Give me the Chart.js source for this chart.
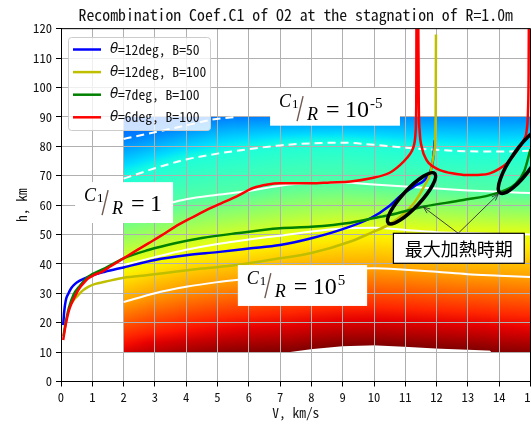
<!DOCTYPE html>
<html>
<head>
<meta charset="utf-8">
<script src="https://cdn.jsdelivr.net/npm/chart.js@4.4.1/dist/chart.umd.min.js"></script>
<style>
  html, body { margin: 0; padding: 0; background: #fff; overflow: hidden; }
  #wrap { position: relative; width: 600px; height: 426px; }
</style>
</head>
<body>
<div id="wrap"><canvas id="c" width="600" height="426"></canvas></div>
<script>
// ---------------- axes ----------------
const X_TICKS = [0, 1, 2, 3, 4, 5, 6, 7, 8, 9, 10, 11, 12, 13, 14, 15];
const Y_TICKS = [0, 10, 20, 30, 40, 50, 60, 70, 80, 90, 100, 110, 120];

// ---------------- flight trajectories (V km/s, h km) ----------------
const SERIES_LABELS = ['=12deg, B=50', '=12deg, B=100', '=7deg, B=100', '=6deg, B=100'];
const SERIES_COLORS = ['#0000ff', '#bfbf00', '#008000', '#ff0000'];

const BLUE_V = [0.07, 0.1, 0.15, 0.23, 0.33, 0.45, 0.6, 0.87, 1.4, 2, 3, 4, 5, 6, 7, 8, 9, 9.9, 10.5, 10.85, 11.3, 11.7, 11.88, 11.94];
const BLUE_H = [19.2, 23.5, 27.5, 29.8, 31.8, 33.2, 34.3, 35.6, 37.3, 38.8, 41.3, 42.9, 44.0, 45.2, 46.4, 48.7, 51.8, 55.6, 59.8, 63.2, 66.5, 69.7, 75, 82];

const YELLOW_V = [0.33, 0.45, 0.55, 0.7, 0.87, 1.1, 1.4, 2, 2.79, 3.64, 4.5, 5.6, 7, 7.97, 9.25, 9.87, 10.5, 11, 11.3, 11.6, 11.8, 11.92, 11.97, 11.98];
const YELLOW_H = [26.5, 28.3, 29.4, 31, 32.2, 33.2, 33.9, 35.3, 36.2, 37.3, 38.4, 39.6, 41.9, 43.6, 47.6, 50.4, 53.5, 57.5, 61, 66.3, 71, 78, 90, 118];

const GREEN_V = [0.08, 0.15, 0.25, 0.4, 0.6, 0.87, 1.4, 2, 2.79, 3.64, 4.5, 5.6, 7, 8, 9.25, 10.2, 10.5, 11.6, 12.85, 13.9, 14.5, 14.8, 15];
const GREEN_H = [15.5, 20, 25, 29.5, 32.5, 35.6, 38.5, 41.9, 44.7, 47, 48.8, 50.4, 52.1, 52.6, 54, 56, 56.6, 59.5, 61.7, 64, 67, 71.5, 79];

const RED_V = [0.07, 0.12, 0.18, 0.25, 0.34, 0.45, 0.55, 0.7, 0.87, 1.05, 1.3, 1.6, 2, 2.4, 2.79, 3.2, 3.64, 4.1, 4.55, 5.1, 5.6, 6.14, 6.6, 7, 7.5, 8, 8.6, 9.25, 9.9, 10.5, 10.83, 11.05, 11.2, 11.28, 11.33, 11.35, 11.36,
               11.41, 11.43, 11.46, 11.52, 11.68, 11.9, 12.1, 12.5, 12.96, 13.4, 13.7, 14, 14.24, 14.46, 14.66, 14.8, 14.88, 14.92, 14.94, 14.95];
const RED_H = [14.1, 17.5, 20.9, 24, 26.6, 29, 31.1, 33.2, 35.1, 36.2, 37.3, 39.3, 41.9, 44.5, 47, 49.6, 52.6, 55.3, 57.8, 60.5, 62.9, 65.8, 67, 67.4, 67.4, 67.4, 67.7, 68, 69.1, 71, 73.6, 76, 78.2, 80.5, 85, 95, 130,
               130, 95, 85, 80, 75.3, 73, 71.9, 70.8, 70.2, 70.3, 70.8, 72.3, 74.2, 76.8, 79.9, 82.5, 85.5, 92, 105, 130];

// ---------------- C1/R field: contour lines ----------------
const CONTOUR_V = [2, 3, 4, 5, 6, 7, 8, 9, 10, 11, 12, 13, 14, 15];
const DASH_LOW_H = [69, 72.5, 75.5, 77.5, 79, 80.3, 81, 81.2, 80.5, 79.5, 78.8, 78.3, 78.2, 78.5];
const SOLID_TOP_H = [57.5, 59.5, 62, 63.5, 64.8, 66.6, 67.5, 67.7, 67, 66.3, 65.6, 65, 64.5, 64.1];
const SOLID_MID_H = [39.6, 42.3, 44.8, 46.8, 48.3, 49.6, 51, 52, 52.3, 51.5, 50.8, 50.5, 50.2, 50];
const SOLID_LOW_H = [27, 30, 32.2, 33.8, 35, 36.5, 37.5, 38.3, 38.5, 38, 37.3, 36.5, 36, 35.5];
const DASH_TOP_V = [2, 3, 4, 4.8, 5.6];
const DASH_TOP_H = [82.5, 84.8, 87.1, 89, 90];

// field extent and colour-scale positions (0 = blue end, 1 = dark red end)
const FIELD_TOP = 90;
const FIELD_BOTTOM_V = [2, 7.3, 8, 9, 10, 11, 12, 13, 13.7, 13.75, 15];
const FIELD_BOTTOM_H = [10, 10, 11, 12, 12.3, 11.8, 11.2, 10.8, 10.5, 10, 10];
const SCALE_TOP = [0.21, 0.215, 0.225, 0.24, 0.25, 0.252, 0.255, 0.257, 0.258, 0.26, 0.26, 0.26, 0.26, 0.26];
const SCALE_BOTTOM = [0.925, 0.95, 0.97, 0.985, 0.995, 1, 1, 1, 1, 1, 1, 1, 0.995, 0.99];
const LEVEL_DASH_TOP = 0.25, LEVEL_DASH_LOW = 0.385, LEVEL_SOLID_TOP = 0.45, LEVEL_SOLID_MID = 0.63, LEVEL_SOLID_LOW = 0.74;

// ---------------- fonts ----------------
const MONO = "'Noto Sans Mono CJK JP', 'Liberation Mono', monospace";
const CJK = "'Noto Sans CJK JP', sans-serif";
const SERIF = "'Liberation Serif', 'DejaVu Serif', serif";

// ---------------- helpers ----------------
const pts = (xs, ys) => xs.map((v, i) => ({ x: v, y: ys[i] }));
function lerp1(xs, ys, v) {
  if (v <= xs[0]) return ys[0];
  for (let i = 1; i < xs.length; i++) {
    if (v <= xs[i]) {
      const f = (v - xs[i - 1]) / (xs[i] - xs[i - 1]);
      return ys[i - 1] + f * (ys[i] - ys[i - 1]);
    }
  }
  return ys[ys.length - 1];
}
const JET_R = [[0, 0], [0.35, 0], [0.66, 1], [0.89, 1], [1, 0.5]];
const JET_G = [[0, 0], [0.125, 0], [0.375, 1], [0.64, 1], [0.91, 0], [1, 0]];
const JET_B = [[0, 0.5], [0.11, 1], [0.34, 1], [0.65, 0], [1, 0]];
function chan(p, t) {
  return lerp1(p.map(q => q[0]), p.map(q => q[1]), t);
}
function jet(t) {
  t = Math.max(0, Math.min(1, t));
  return 'rgb(' + Math.round(255 * chan(JET_R, t)) + ',' + Math.round(255 * chan(JET_G, t)) + ',' + Math.round(255 * chan(JET_B, t)) + ')';
}

// colour field painted under the grid
const fieldPlugin = {
  id: 'field',
  beforeDraw(chart) {
    const { ctx, chartArea, scales: { x, y } } = chart;
    const px0 = Math.round(x.getPixelForValue(CONTOUR_V[0]));
    const px1 = Math.round(Math.min(chartArea.right, x.getPixelForValue(CONTOUR_V[CONTOUR_V.length - 1])));
    ctx.save();
    for (let px = px0; px < px1; px++) {
      const v = x.getValueForPixel(px + 0.5);
      const hB = lerp1(FIELD_BOTTOM_V, FIELD_BOTTOM_H, v);
      const stops = [
        [hB, lerp1(CONTOUR_V, SCALE_BOTTOM, v)],
        [lerp1(CONTOUR_V, SOLID_LOW_H, v), LEVEL_SOLID_LOW],
        [lerp1(CONTOUR_V, SOLID_MID_H, v), LEVEL_SOLID_MID],
        [lerp1(CONTOUR_V, SOLID_TOP_H, v), LEVEL_SOLID_TOP],
        [lerp1(CONTOUR_V, DASH_LOW_H, v), LEVEL_DASH_LOW]
      ];
      if (v < DASH_TOP_V[DASH_TOP_V.length - 1]) stops.push([lerp1(DASH_TOP_V, DASH_TOP_H, v), LEVEL_DASH_TOP]);
      stops.push([FIELD_TOP, lerp1(CONTOUR_V, SCALE_TOP, v)]);
      const yB = y.getPixelForValue(hB), yT = y.getPixelForValue(FIELD_TOP);
      const g = ctx.createLinearGradient(0, yB, 0, yT);
      for (let i = 0; i < stops.length - 1; i++) {
        const [h0, t0] = stops[i], [h1, t1] = stops[i + 1];
        for (let k = 0; k <= 6; k++) {
          const f = k / 6;
          const h = h0 + f * (h1 - h0);
          const off = Math.max(0, Math.min(1, (h - hB) / (FIELD_TOP - hB)));
          g.addColorStop(off, jet(t0 + f * (t1 - t0)));
        }
      }
      ctx.fillStyle = g;
      ctx.fillRect(px, yT, 1, yB - yT);
    }
    ctx.restore();
  }
};

function arrowLine(ctx, x0, y0, x1, y1) {
  ctx.beginPath();
  ctx.moveTo(x0, y0);
  ctx.lineTo(x1, y1);
  const a = Math.atan2(y1 - y0, x1 - x0);
  const L = 7, w = 0.38;
  ctx.moveTo(x1 - L * Math.cos(a - w), y1 - L * Math.sin(a - w));
  ctx.lineTo(x1, y1);
  ctx.lineTo(x1 - L * Math.cos(a + w), y1 - L * Math.sin(a + w));
  ctx.stroke();
}

// ratio label  C1/R = value
function ratioLabel(ctx, x, y, box, base, sup, sz) {
  const bx = x.getPixelForValue(box[0]), by = y.getPixelForValue(box[1]);
  const bw = x.getPixelForValue(box[2]) - bx, bh = y.getPixelForValue(box[3]) - by;
  ctx.fillStyle = '#ffffff';
  ctx.fillRect(bx, by, bw, bh);
  const s = sz;
  ctx.fillStyle = '#000';
  ctx.textBaseline = 'alphabetic';
  ctx.textAlign = 'left';
  ctx.font = 'italic ' + (18 * s) + 'px ' + SERIF;
  ctx.fillText('C', bx + 9 * s, by + 19 * s);
  ctx.font = (13 * s) + 'px ' + SERIF;
  ctx.fillText('1', bx + 22 * s, by + 20 * s);
  ctx.strokeStyle = '#6e5a50';
  ctx.lineWidth = 1.4;
  ctx.beginPath();
  ctx.moveTo(bx + 33 * s, by + 8 * s);
  ctx.lineTo(bx + 27 * s, by + 33 * s);
  ctx.stroke();
  ctx.font = 'italic ' + (18 * s) + 'px ' + SERIF;
  ctx.fillText('R', bx + 37 * s, by + 32 * s);
  ctx.font = (24 * s) + 'px ' + SERIF;
  ctx.fillText('=', bx + 56 * s, by + 29 * s);
  ctx.fillText(base, bx + 75 * s, by + 29 * s);
  if (sup) {
    const w = ctx.measureText(base).width;
    ctx.font = (15 * s) + 'px ' + SERIF;
    ctx.fillText(sup, bx + 75 * s + w + 1, by + 20 * s);
  }
}

// annotations, legend and frame drawn over the plot
const overlayPlugin = {
  id: 'overlay',
  afterDraw(chart) {
    const { ctx, chartArea: ca, scales: { x, y } } = chart;
    ctx.save();

    // frame: top and right spines
    ctx.strokeStyle = '#000';
    ctx.lineWidth = 1;
    ctx.beginPath();
    ctx.moveTo(ca.left, ca.top);
    ctx.lineTo(ca.right, ca.top);
    ctx.lineTo(ca.right, ca.bottom);
    ctx.stroke();

    // ratio labels
    ratioLabel(ctx, x, y, [6.68, 99.8, 10.83, 87.0], '10', '-5', 1);
    ratioLabel(ctx, x, y, [0.45, 67.8, 3.58, 53.9], '1', '', 1);
    ratioLabel(ctx, x, y, [5.65, 39.6, 9.78, 25.7], '10', '5', 1);

    // peak-heating ellipses
    ctx.strokeStyle = '#000';
    ctx.lineWidth = 3.6;
    ctx.beginPath();
    ctx.ellipse(x.getPixelForValue(11.2), y.getPixelForValue(62.3), 34, 9, -47 * Math.PI / 180, 0, 2 * Math.PI);
    ctx.stroke();
    ctx.beginPath();
    ctx.ellipse(x.getPixelForValue(14.76), y.getPixelForValue(75.3), 40, 11, -55 * Math.PI / 180, 0, 2 * Math.PI);
    ctx.stroke();

    // label box and arrows
    const lx0 = x.getPixelForValue(10.62), ly0 = y.getPixelForValue(50.4);
    const lx1 = x.getPixelForValue(14.8), ly1 = y.getPixelForValue(40.2);
    const ax = x.getPixelForValue(12.69), ay = ly0;
    ctx.strokeStyle = '#333';
    ctx.lineWidth = 0.9;
    arrowLine(ctx, ax, ay, x.getPixelForValue(11.58), y.getPixelForValue(59.3));
    arrowLine(ctx, ax, ay, x.getPixelForValue(13.97), y.getPixelForValue(63.7));
    ctx.fillStyle = '#fff';
    ctx.fillRect(lx0, ly0, lx1 - lx0, ly1 - ly0);
    ctx.strokeStyle = '#000';
    ctx.lineWidth = 1.2;
    ctx.strokeRect(lx0, ly0, lx1 - lx0, ly1 - ly0);
    ctx.fillStyle = '#000';
    ctx.font = '18px ' + CJK;
    ctx.textAlign = 'center';
    ctx.textBaseline = 'middle';
    ctx.fillText('最大加熱時期', (lx0 + lx1) / 2, (ly0 + ly1) / 2 + 1);

    // legend
    const L = { x: 68, y: 37, w: 142, h: 93 };
    ctx.fillStyle = 'rgba(255,255,255,0.8)';
    ctx.strokeStyle = '#cccccc';
    ctx.lineWidth = 1;
    ctx.beginPath();
    ctx.roundRect(L.x + 0.5, L.y + 0.5, L.w, L.h, 3);
    ctx.fill();
    ctx.stroke();
    ctx.textAlign = 'left';
    ctx.textBaseline = 'middle';
    SERIES_LABELS.forEach((lab, i) => {
      const ry = L.y + 12.5 + i * 22.6;
      ctx.strokeStyle = SERIES_COLORS[i];
      ctx.lineWidth = 2.5;
      ctx.beginPath();
      ctx.moveTo(L.x + 5, ry);
      ctx.lineTo(L.x + 33, ry);
      ctx.stroke();
      ctx.fillStyle = '#111';
      ctx.font = 'italic 13.5px ' + "'DejaVu Sans', sans-serif";
      ctx.fillText('θ', L.x + 42, ry);
      ctx.font = '13.6px ' + MONO;
      ctx.fillText(lab, L.x + 50, ry);
    });
    ctx.restore();
  }
};

// ---------------- datasets ----------------
function curve(i, xs, ys, order) {
  return {
    label: SERIES_LABELS[i], data: pts(xs, ys), showLine: true,
    borderColor: SERIES_COLORS[i], borderWidth: 2.5, pointRadius: 0,
    cubicInterpolationMode: 'monotone', order: order
  };
}
function contour(xs, ys, dashed) {
  return {
    label: '', data: pts(xs, ys), showLine: true, borderColor: '#ffffff',
    borderWidth: 2, borderDash: dashed ? [8, 5] : [], pointRadius: 0,
    cubicInterpolationMode: 'monotone', order: 10
  };
}

const datasets = [
  curve(3, RED_V, RED_H, 1),
  curve(2, GREEN_V, GREEN_H, 2),
  curve(1, YELLOW_V, YELLOW_H, 3),
  curve(0, BLUE_V, BLUE_H, 4),
  contour(DASH_TOP_V, DASH_TOP_H, true),
  contour(CONTOUR_V, DASH_LOW_H, true),
  contour(CONTOUR_V, SOLID_TOP_H, false),
  contour(CONTOUR_V, SOLID_MID_H, false),
  contour(CONTOUR_V, SOLID_LOW_H, false)
];

const tickFont = { family: MONO, size: 12.6 };

new Chart(document.getElementById('c'), {
  type: 'scatter',
  data: { datasets },
  options: {
    responsive: false,
    animation: false,
    events: [],
    layout: { padding: { left: 0, right: 69.5, top: 0, bottom: 0 } },
    plugins: {
      legend: { display: false },
      tooltip: { enabled: false },
      title: {
        display: true, fullSize: false,
        text: 'Recombination Coef.C1 of O2 at the stagnation of R=1.0m',
        font: { family: MONO, size: 15.8, weight: 'normal' }, color: '#111',
        padding: { top: 6, bottom: 3.7 }
      }
    },
    scales: {
      x: {
        type: 'linear', min: X_TICKS[0], max: X_TICKS[X_TICKS.length - 1],
        ticks: { stepSize: X_TICKS[1] - X_TICKS[0], autoSkip: false, maxRotation: 0, font: tickFont, color: '#111', padding: 3 },
        grid: { color: '#b0b0b0', tickColor: '#000', tickLength: 5, lineWidth: 1 },
        border: { color: '#000', width: 1 },
        title: { display: true, text: 'V, km/s', font: { family: MONO, size: 13.5 }, color: '#111', padding: { top: 0, bottom: 5 } },
        afterFit(s) { s.height = 44.5; }
      },
      y: {
        type: 'linear', min: Y_TICKS[0], max: Y_TICKS[Y_TICKS.length - 1],
        ticks: { stepSize: Y_TICKS[1] - Y_TICKS[0], font: tickFont, color: '#111', padding: 4 },
        grid: { color: '#b0b0b0', tickColor: '#000', tickLength: 5, lineWidth: 1 },
        border: { color: '#000', width: 1 },
        title: { display: true, text: 'h, km', font: { family: MONO, size: 13.5 }, color: '#111', padding: { top: 14, bottom: 0 } },
        afterFit(s) { s.width = 61; }
      }
    }
  },
  plugins: [fieldPlugin, overlayPlugin]
});
</script>
</body>
</html>
